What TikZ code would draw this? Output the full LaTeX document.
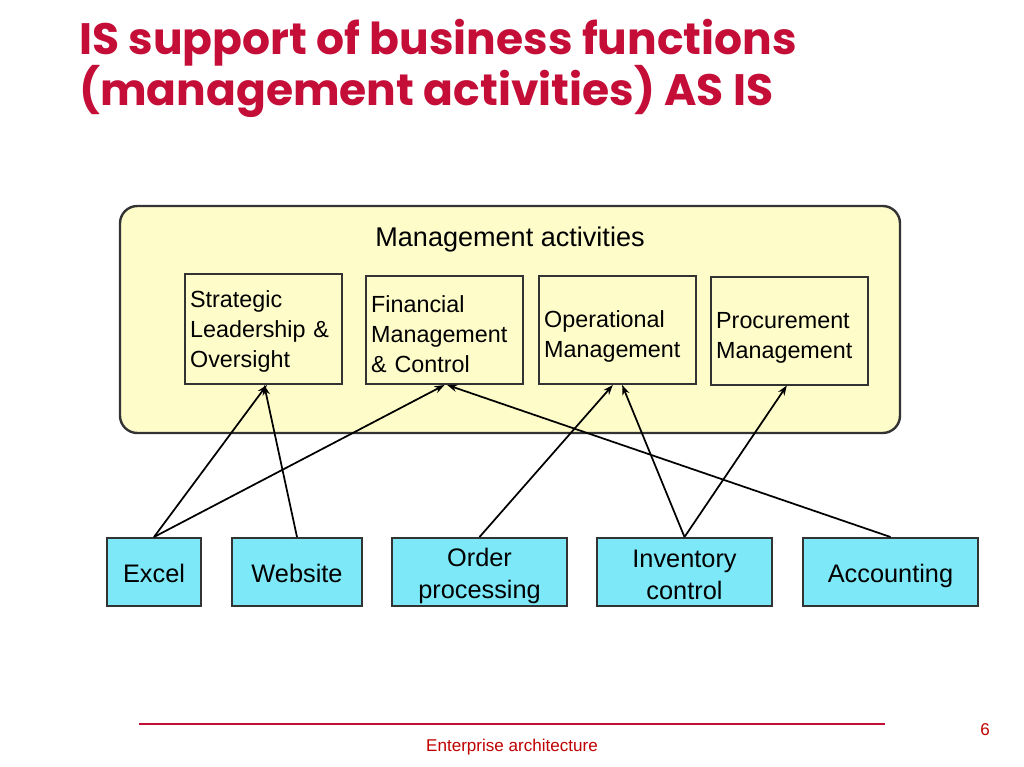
\documentclass[tikz,border=0pt]{standalone}
\usepackage{fontspec}
\setmainfont{Liberation Sans}
\newfontfamily\titlefont{Poppins}
\usetikzlibrary{arrows.meta}
\definecolor{titlered}{RGB}{196,14,56}
\definecolor{footred}{RGB}{192,0,0}
\definecolor{yfill}{RGB}{254,252,201}
\definecolor{cfill}{RGB}{125,233,248}
\definecolor{frame}{RGB}{51,51,51}
\tikzset{
  bigbox/.style={draw=frame, fill=yfill, line width=1.8pt, rounded corners=13pt},
  actbox/.style={draw=frame, fill=yfill, line width=1.5pt, minimum width=117.75pt,
    minimum height=81pt, inner sep=0pt},
  acttext/.style={text width=110pt, inner sep=3pt, align=left,
    font=\fontsize{17.5}{22.5}\selectfont},
  sysbox/.style={draw=frame, fill=cfill, line width=1.5pt, minimum height=51pt, inner sep=0pt},
  systext/.style={align=center, inner sep=0pt, font=\fontsize{19}{23.5}\selectfont},
  titletext/.style={anchor=base west, inner sep=0pt, text=titlered,
    font=\titlefont\bfseries\fontsize{33}{40}\selectfont},
  link/.style={line width=1.3pt, -{Stealth[length=7.5pt,width=5.5pt]}},
}
\begin{document}
\begin{tikzpicture}[x=0.75pt,y=-0.75pt]
\useasboundingbox (0,0) rectangle (1024,767);
\fill[white] (0,0) rectangle (1024,767);
% title
\node[titletext] (t1) at (79,55) {IS support of business functions};
\node[titletext] (t2) at (79,105) {(management activities) AS IS};
% management container
\node[bigbox, minimum width=585pt, minimum height=170.25pt] (mgmt) at (510,319.5) {};
\node[font=\fontsize{20.3}{24}\selectfont, inner sep=0pt] (mtitle) at (510,239) {Management activities};
% activity boxes
\node[actbox, minimum height=82.5pt] (s1) at (263.5,329) {};
\node[actbox] (s2) at (444.5,330) {};
\node[actbox] (s3) at (617.5,330) {};
\node[actbox] (s4) at (789.5,330.5) {};
\node[acttext] (s1t) at (263.5,331) {Strategic\\Leadership \&\\Oversight};
\node[acttext] (s2t) at (444.5,334.5) {Financial\\Management\\\& Control};
\node[acttext] (s3t) at (617.5,336.5) {Operational\\Management};
\node[acttext] (s4t) at (789.5,337.5) {Procurement\\Management};
% systems
\node[sysbox, minimum width=70.5pt] (excel) at (154,572) {};
\node[sysbox, minimum width=97.5pt] (web) at (297,572) {};
\node[sysbox, minimum width=131.25pt] (order) at (479.5,572) {};
\node[sysbox, minimum width=131.25pt] (inv) at (684.5,572) {};
\node[sysbox, minimum width=131.25pt] (acc) at (890.5,572) {};
\node[systext] (excelt) at (154,573.5) {Excel};
\node[systext] (webt) at (297,573.5) {Website};
\node[systext] (ordert) at (479.5,576) {Order\\processing};
\node[systext] (invt) at (684.5,575) {Inventory\\control};
\node[systext] (acct) at (890.5,576) {Accounting};
% connectors
\draw[link] (excel.north) -- ([xshift=2.5pt]s1.south);
\draw[link] (web.north) -- ([xshift=0.5pt]s1.south);
\draw[link] (excel.north) -- (s2.south);
\draw[link] (acc.north) -- ([xshift=2pt]s2.south);
\draw[link] (order.north) -- ([xshift=-3.5pt]s3.south);
\draw[link] (inv.north) -- ([xshift=3.5pt]s3.south);
\draw[link] (inv.north) -- ([xshift=-2pt]s4.south);
% footer
\draw[titlered, line width=1.5pt] (139,724) -- (885,724);
\node[text=footred, font=\fontsize{12.8}{15}\selectfont] (foot) at (512,747) {Enterprise architecture};
\node[text=footred, font=\fontsize{12.8}{15}\selectfont] (pg) at (985,730) {6};
\end{tikzpicture}
\end{document}
